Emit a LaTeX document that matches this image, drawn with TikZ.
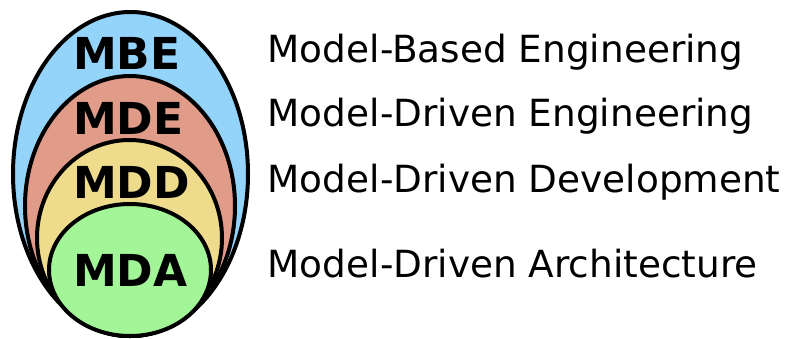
\documentclass[tikz,border=0pt]{standalone}
\usepackage{fontspec}
\setmainfont{DejaVu Sans}
\definecolor{cmbe}{RGB}{148,212,250}
\definecolor{cmde}{RGB}{224,156,136}
\definecolor{cmdd}{RGB}{238,220,140}
\definecolor{cmda}{RGB}{162,246,152}
\tikzset{
  ring/.style={draw=black, line width=4pt},
  abbr/.style={anchor=base west, inner sep=0pt, font=\fontsize{44}{44}\selectfont\bfseries},
  fullname/.style={anchor=base west, inner sep=0pt, font=\fontsize{37.4}{37.4}\selectfont},
}
\begin{document}
\begin{tikzpicture}[x=1pt,y=-1pt]
\useasboundingbox (0,0) rectangle (799,338);
\path[ring, fill=cmbe] (130.5,174) ellipse [x radius=117.5pt, y radius=162pt];
\path[ring, fill=cmde] (130,206) ellipse [x radius=105pt, y radius=130pt];
\path[ring, fill=cmdd] (129.5,238) ellipse [x radius=92.5pt, y radius=98pt];
\path[ring, fill=cmda] (130,270) ellipse [x radius=81pt, y radius=66pt];
\node[abbr] (mbe) at (73,69) {MBE};
\node[abbr] (mde) at (73,134) {MDE};
\node[abbr] (mdd) at (73,198) {MDD};
\node[abbr] (mda) at (73,286) {MDA};
\node[fullname] (tmbe) at (267.5,62) {Model-Based Engineering};
\node[fullname] (tmde) at (267.5,126) {Model-Driven Engineering};
\node[fullname] (tmdd) at (267.5,192) {Model-Driven Development};
\node[fullname] (tmda) at (267.5,277) {Model-Driven Architecture};
\end{tikzpicture}
\end{document}
